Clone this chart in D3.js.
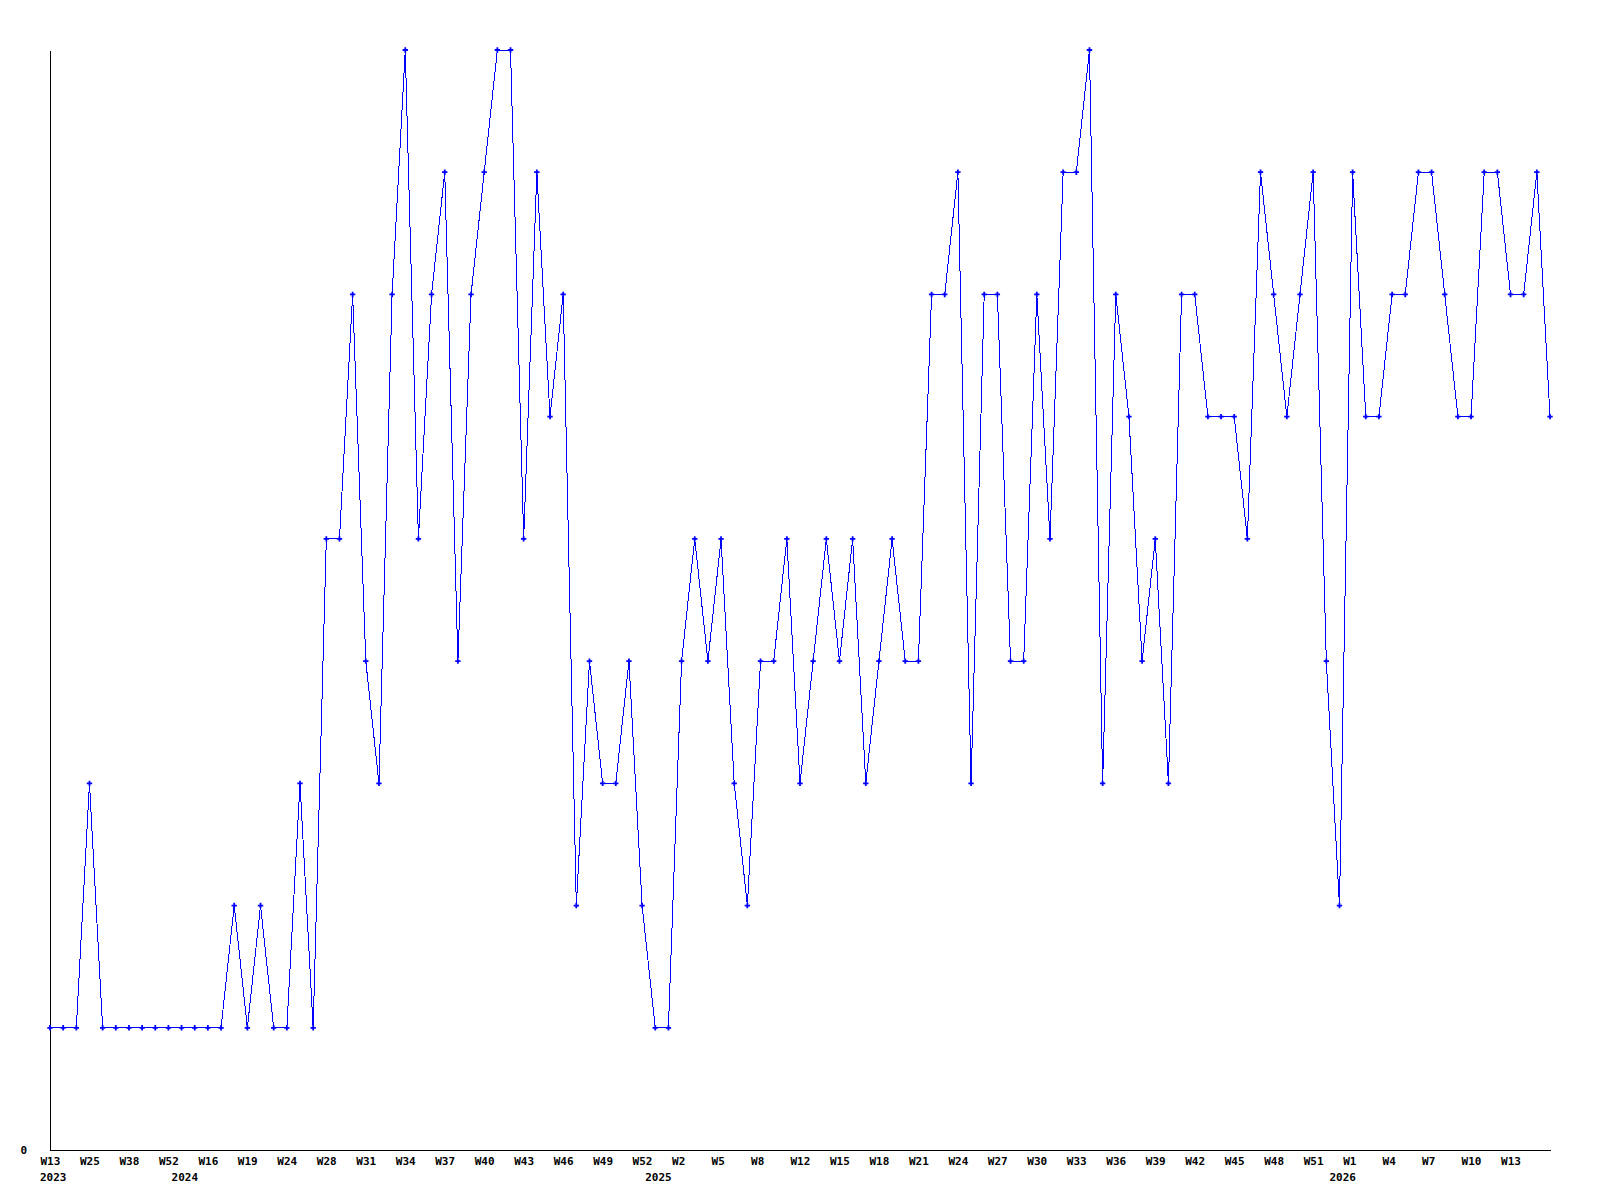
<!DOCTYPE html>
<html>
<head>
<meta charset="utf-8">
<script src="https://cdn.jsdelivr.net/npm/d3@7"></script>
<style>
  body { margin: 0; background: #fff; }
  text { font-family: "DejaVu Sans Mono", monospace; font-size: 11px; font-weight: bold; fill: #000; }
</style>
</head>
<body>
<div id="chart"></div>
<script>
// weekly counts, one per point (115 points)
const values = [
  1, 1, 1, 3, 1, 1, 1, 1, 1, 1, 1, 1, 1, 1, 2, 1, 2, 1, 1, 3,
  1, 5, 5, 7, 4, 3, 7, 9, 5, 7, 8, 4, 7, 8, 9, 9, 5, 8, 6, 7,
  2, 4, 3, 3, 4, 2, 1, 1, 4, 5, 4, 5, 3, 2, 4, 4, 5, 3, 4, 5,
  4, 5, 3, 4, 5, 4, 4, 7, 7, 8, 3, 7, 7, 4, 4, 7, 5, 8, 8, 9,
  3, 7, 6, 4, 5, 3, 7, 7, 6, 6, 6, 5, 8, 7, 6, 7, 8, 4, 2, 8,
  6, 6, 7, 7, 8, 8, 7, 6, 6, 8, 8, 7, 7, 8, 6
];

// a week label on every third point
const weekLabels = [
  "W13", "W25", "W38", "W52", "W16", "W19", "W24", "W28", "W31", "W34",
  "W37", "W40", "W43", "W46", "W49", "W52", "W2", "W5", "W8", "W12",
  "W15", "W18", "W21", "W24", "W27", "W30", "W33", "W36", "W39", "W42",
  "W45", "W48", "W51", "W1", "W4", "W7", "W10", "W13"
];
const labelStep = 3;

// first point of each year
const yearLabels = ["2023", "2024", "2025", "2026"];
const yearStart = [0, 10, 46, 98];

const yTicks = [0];

const width = 1600, height = 1200;
const margin = { top: 50, right: 50, bottom: 50, left: 50 };

const svg = d3.select("#chart")
  .append("svg")
  .attr("width", width)
  .attr("height", height);

const x = d3.scaleLinear()
  .domain([0, values.length - 1])
  .range([margin.left, width - margin.right]);

const y = d3.scaleLinear()
  .domain([0, d3.max(values)])
  .range([height - margin.bottom, margin.top]);

// bottom axis with week labels
const xAxis = svg.append("g")
  .attr("transform", `translate(0,${height - margin.bottom})`)
  .call(d3.axisBottom(x)
    .tickValues(weekLabels.map((d, i) => i * labelStep))
    .tickFormat((d, i) => weekLabels[i])
    .tickSize(0)
    .tickSizeOuter(0));
xAxis.select(".domain").attr("stroke", "#000").attr("shape-rendering", "crispEdges");
xAxis.selectAll("text")
  .attr("text-anchor", "start")
  .attr("dx", -10)
  .attr("y", 7)
  .attr("dy", "0.71em")
  .attr("font-family", null)
  .attr("font-size", null);

// year row
svg.append("g")
  .selectAll("text")
  .data(yearLabels)
  .join("text")
  .attr("x", (d, i) => x(yearStart[i]) - 10)
  .attr("y", height - margin.bottom + 23)
  .attr("dy", "0.71em")
  .text(d => d);

// left axis, only 0 is labelled
const yAxis = svg.append("g")
  .attr("transform", `translate(${margin.left},0)`)
  .call(d3.axisLeft(y)
    .tickValues(yTicks)
    .tickSize(0)
    .tickSizeOuter(0));
yAxis.select(".domain").attr("stroke", "#000").attr("shape-rendering", "crispEdges");
yAxis.selectAll("text")
  .attr("x", -23)
  .attr("text-anchor", "end")
  .attr("font-family", null)
  .attr("font-size", null);

// line
const line = d3.line()
  .x((d, i) => x(i))
  .y(d => y(d));

svg.append("path")
  .datum(values)
  .attr("fill", "none")
  .attr("stroke", "#0000ff")
  .attr("stroke-width", 1)
  .attr("shape-rendering", "crispEdges")
  .attr("d", line);

// point markers
svg.append("g")
  .selectAll("path")
  .data(values)
  .join("path")
  .attr("transform", (d, i) => `translate(${x(i)},${y(d)})`)
  .attr("d", d3.symbol(d3.symbolCross, 16))
  .attr("fill", "#0000ff");
</script>
</body>
</html>
